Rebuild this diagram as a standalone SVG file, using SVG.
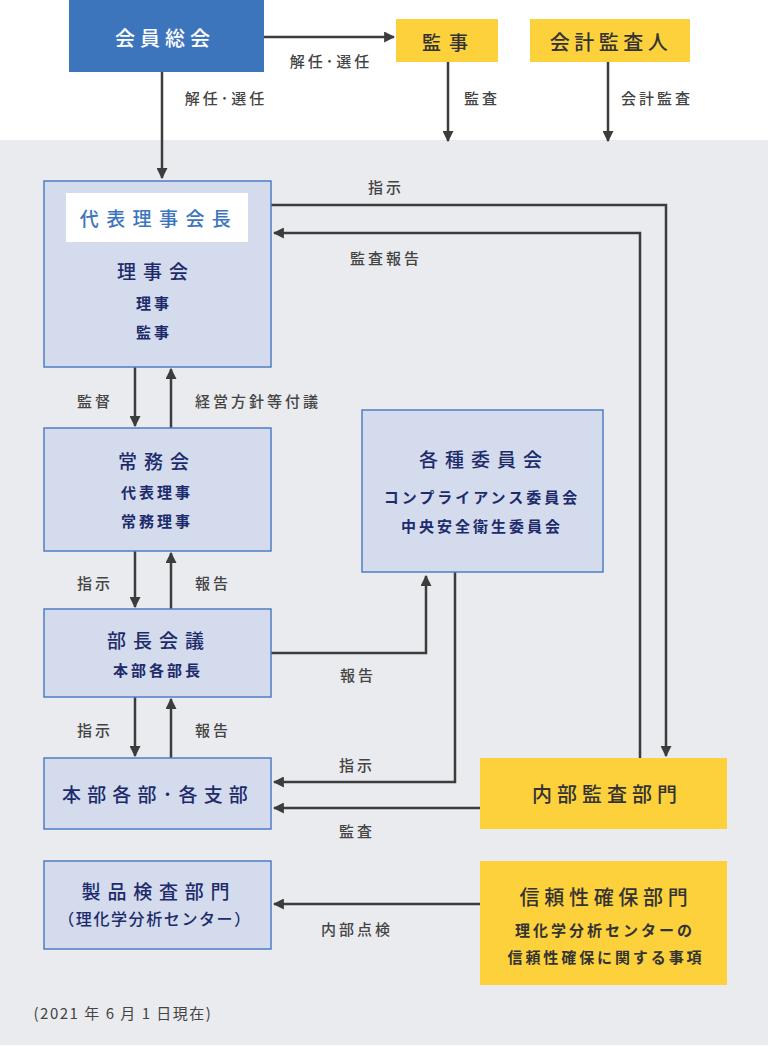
<svg xmlns="http://www.w3.org/2000/svg" width="768" height="1046" viewBox="0 0 768 1046">
<defs>
<style>
text{font-family:"Noto Sans CJK JP","Noto Sans",sans-serif;text-anchor:middle;dominant-baseline:central}
.box{fill:#d4dbed;stroke:#4f7fc4;stroke-width:1.5}
.ybox{fill:#fcd13c}
.t{fill:#1d2b6b;font-size:19px;font-weight:500;letter-spacing:7px}
.s{fill:#1d2b6b;font-size:15px;font-weight:700;letter-spacing:3px}
.yt{fill:#333;font-size:20px;font-weight:500;letter-spacing:5px}
.ys{fill:#333;font-size:15px;font-weight:700;letter-spacing:3px}
.lb{fill:#444;font-size:15px;font-weight:500;letter-spacing:3px}
.c{fill:none;stroke:#3c3c3c;stroke-width:2.5}
</style>
<marker id="ah" viewBox="0 0 10 10" refX="9" refY="5" markerWidth="4.4" markerHeight="4.4" orient="auto" markerUnits="strokeWidth">
<path d="M0,0 L10,5 L0,10 Z" fill="#3c3c3c"/>
</marker>
</defs>
<rect x="0" y="0" width="768" height="1046" fill="#ffffff"/>
<rect x="0" y="140" width="768" height="905" fill="#eaebef"/>

<g id="connectors">
<path class="c" d="M264,37 H394" marker-end="url(#ah)"/>
<path class="c" d="M162,72 V178" marker-end="url(#ah)"/>
<path class="c" d="M448,62 V141" marker-end="url(#ah)"/>
<path class="c" d="M608,62 V141" marker-end="url(#ah)"/>
<path class="c" d="M271,205 H666 V756" marker-end="url(#ah)"/>
<path class="c" d="M640,758 V233 H274" marker-end="url(#ah)"/>
<path class="c" d="M135,367 V426" marker-end="url(#ah)"/>
<path class="c" d="M171,428 V369" marker-end="url(#ah)"/>
<path class="c" d="M135,551 V607" marker-end="url(#ah)"/>
<path class="c" d="M171,609 V553" marker-end="url(#ah)"/>
<path class="c" d="M135,697 V756" marker-end="url(#ah)"/>
<path class="c" d="M171,758 V699" marker-end="url(#ah)"/>
<path class="c" d="M271,653 H426 V576" marker-end="url(#ah)"/>
<path class="c" d="M455,572 V782 H274" marker-end="url(#ah)"/>
<path class="c" d="M480,808 H274" marker-end="url(#ah)"/>
<path class="c" d="M512,904 H274" marker-end="url(#ah)"/>
<text class="lb" x="331" y="60">解任･選任</text>
<text class="lb" x="226" y="97">解任･選任</text>
<text class="lb" x="482" y="97">監査</text>
<text class="lb" x="657" y="97">会計監査</text>
<text class="lb" x="386" y="186">指示</text>
<text class="lb" x="386" y="257">監査報告</text>
<text class="lb" x="95" y="400">監督</text>
<text class="lb" x="258" y="400">経営方針等付議</text>
<text class="lb" x="95" y="582">指示</text>
<text class="lb" x="213" y="582">報告</text>
<text class="lb" x="358" y="674">報告</text>
<text class="lb" x="95" y="729">指示</text>
<text class="lb" x="213" y="729">報告</text>
<text class="lb" x="357" y="764">指示</text>
<text class="lb" x="357" y="830">監査</text>
<text class="lb" x="357" y="928">内部点検</text>
</g>

<g id="n-soukai">
<rect x="69" y="0" width="195" height="72" fill="#3d75bd"/>
<text x="165" y="37" style="fill:#fff;font-size:20px;font-weight:500;letter-spacing:5px">会員総会</text>
</g>
<g id="n-kanji">
<rect class="ybox" x="396" y="19" width="102" height="43"/>
<text class="yt" x="449" y="41" style="font-size:19px;letter-spacing:8px">監事</text>
</g>
<g id="n-kaikei">
<rect class="ybox" x="530" y="19" width="160" height="43"/>
<text class="yt" x="611" y="41" style="font-size:20px;letter-spacing:4.5px">会計監査人</text>
</g>
<g id="n-rijikai">
<rect class="box" x="44" y="181" width="227" height="186"/>
<rect x="66" y="193" width="182" height="49" fill="#fff"/>
<text x="159" y="217" style="fill:#3d75bd;font-size:19px;font-weight:500;letter-spacing:7.4px">代表理事会長</text>
<text class="t" x="156" y="270">理事会</text>
<text class="s" x="154" y="302">理事</text>
<text class="s" x="154" y="331">監事</text>
</g>
<g id="n-joumukai">
<rect class="box" x="44" y="428" width="227" height="123"/>
<text class="t" x="157" y="460">常務会</text>
<text class="s" x="157" y="491">代表理事</text>
<text class="s" x="157" y="520">常務理事</text>
</g>
<g id="n-iinkai">
<rect class="box" x="362" y="410" width="241" height="162"/>
<text class="t" x="484" y="458">各種委員会</text>
<text class="s" x="482" y="496">コンプライアンス委員会</text>
<text class="s" x="482" y="525">中央安全衛生委員会</text>
</g>
<g id="n-buchokaigi">
<rect class="box" x="44" y="609" width="227" height="88"/>
<text class="t" x="159" y="639">部長会議</text>
<text class="s" x="158" y="669">本部各部長</text>
</g>
<g id="n-honbu">
<rect class="box" x="44" y="758" width="227" height="71"/>
<text class="t" x="158" y="793" style="letter-spacing:6.2px">本部各部･各支部</text>
</g>
<g id="n-naibukansa">
<rect class="ybox" x="480" y="758" width="247" height="71"/>
<text class="yt" x="607" y="793">内部監査部門</text>
</g>
<g id="n-seihin">
<rect class="box" x="44" y="861" width="227" height="88"/>
<text class="t" x="159" y="890" style="letter-spacing:6.8px">製品検査部門</text>
<text class="t" x="155" y="918" style="font-size:16px;letter-spacing:1.6px">（理化学分析センター）</text>
</g>
<g id="n-shinrai">
<rect class="ybox" x="480" y="861" width="247" height="124"/>
<text class="yt" x="606" y="896" style="letter-spacing:4.7px">信頼性確保部門</text>
<text class="ys" x="605" y="929">理化学分析センターの</text>
<text class="ys" x="606" y="956" style="letter-spacing:2.9px">信頼性確保に関する事項</text>
</g>
<text x="123" y="1012" style="fill:#444;font-size:15px;font-weight:400;letter-spacing:1.5px">(2021 年 6 月 1 日現在)</text>
</svg>
